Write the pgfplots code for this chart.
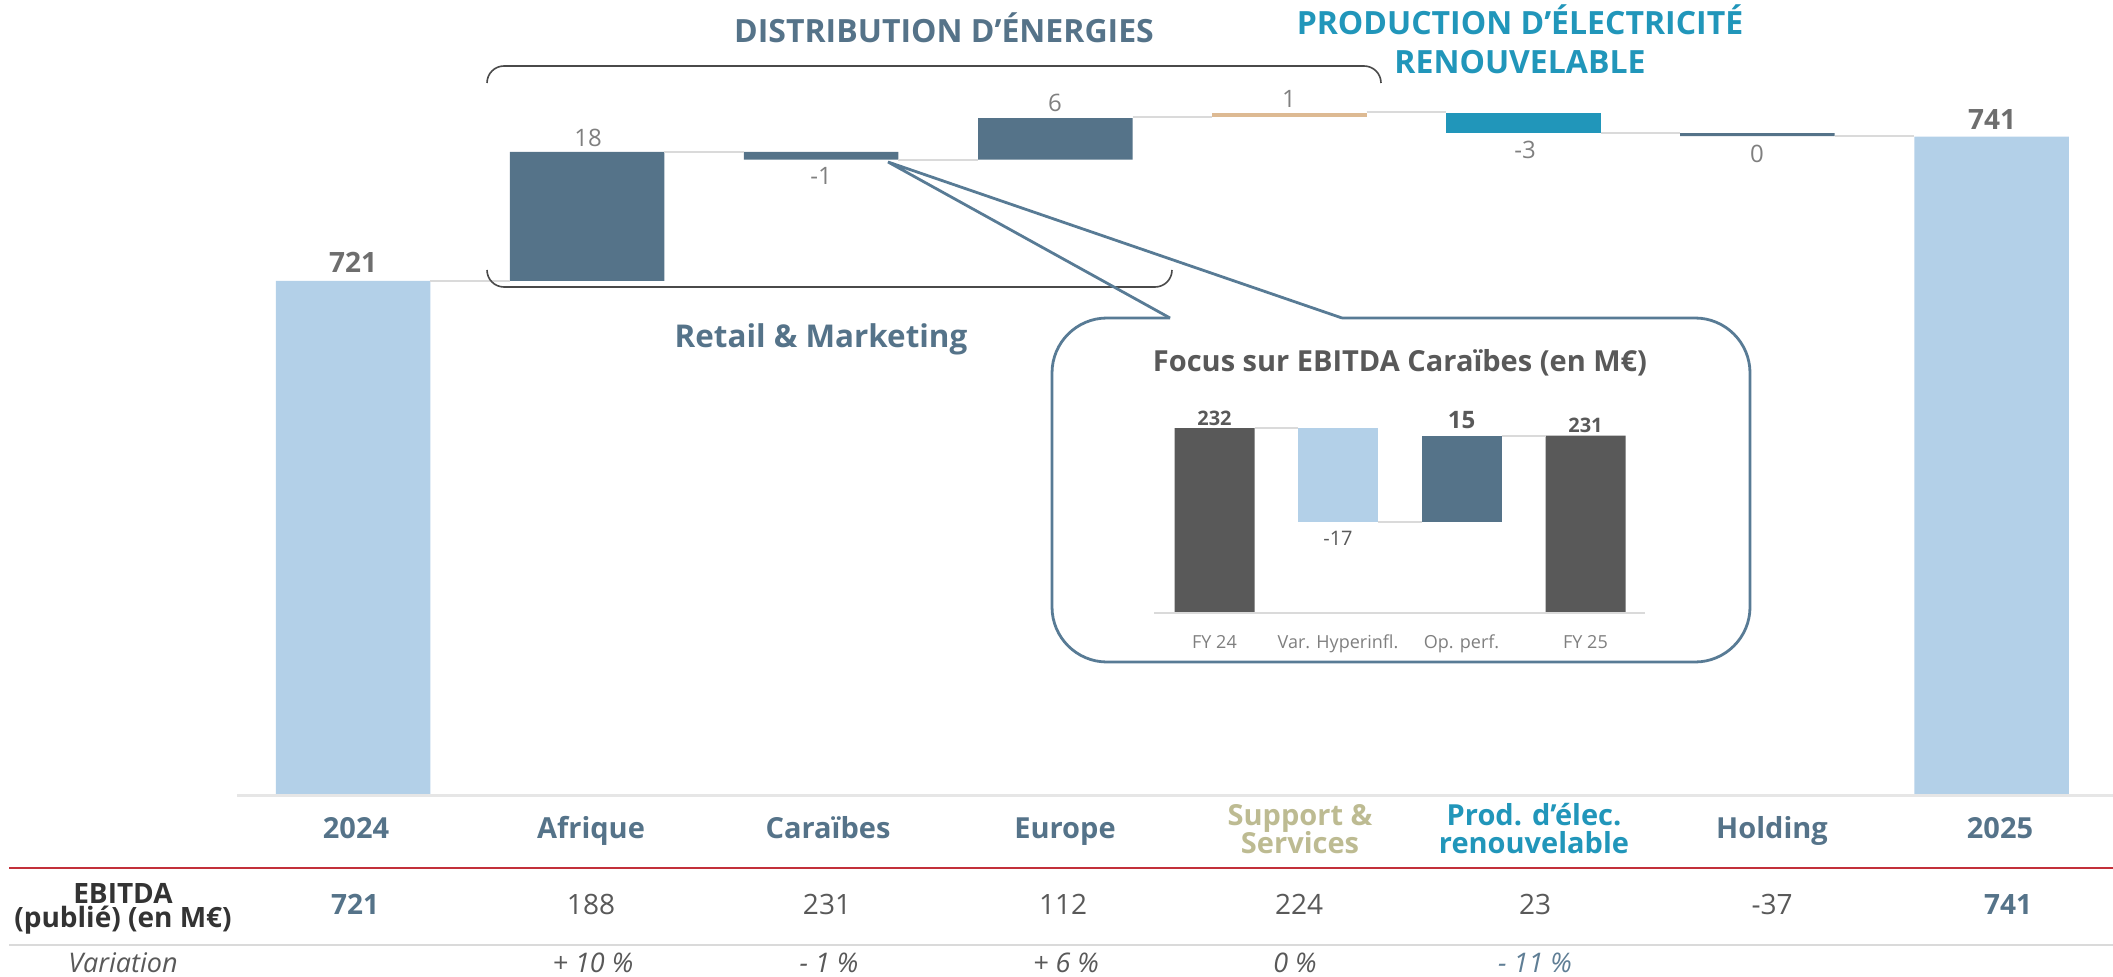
\documentclass[border=0pt]{standalone}
\usepackage{pgfplots}
\pgfplotsset{compat=1.18}
\usepackage{pgfplotstable}
\usepackage{fontspec}
\setmainfont{Open Sans}

\definecolor{lblue}{HTML}{B3D0E8}
\definecolor{slate}{HTML}{557389}
\definecolor{tanc}{HTML}{DDBA93}
\definecolor{tealc}{HTML}{2196BA}
\definecolor{dgrey}{HTML}{595959}
\definecolor{mgrey}{HTML}{7F7F7F}
\definecolor{tgrey}{HTML}{6E6E6E}
\definecolor{conn}{HTML}{DADADA}
\definecolor{basel}{HTML}{E6E6E6}
\definecolor{khaki}{HTML}{BDBB92}
\definecolor{redl}{HTML}{C3303A}
\definecolor{boxc}{HTML}{587B95}
\definecolor{brk}{HTML}{4A4A4A}
\definecolor{blk}{HTML}{333333}
\definecolor{pslate}{HTML}{5F7E95}

\newcommand{\fs}[1]{\fontsize{#1}{#1}\selectfont}

% main waterfall: base = invisible lower part, others = visible segments
\pgfplotstableread{
x base tot sl tan te
0 0 721 0 0 0
1 721 0 18 0 0
2 737.9 0 1.1 0 0
3 737.9 0 5.8 0 0
4 743.8 0 0 0.6 0
5 741.6 0 0 0 2.8
6 741.2 0 0.4 0 0
7 0 741.1 0 0 0
}\maindata

% inset waterfall (Caraibes)
\pgfplotstableread{
x base tot neg pos
0 0 232 0 0
1 215 0 17 0
2 215 0 0 15.6
3 0 230.6 0 0
}\insetdata

\begin{document}
\begin{tikzpicture}[x=0.5pt,y=0.5pt]
\useasboundingbox (0,0) rectangle (2113,976);

% ---------- main bars ----------
\begin{axis}[at={(118pt,90.5pt)}, anchor=south west,
  x=117.035pt, y=3.585pt,
  xmin=-0.5, xmax=7.52, ymin=649.3, ymax=760,
  hide axis, enlargelimits=false,
  ybar stacked, bar width=0.66]
\addplot[draw=none, fill=none] table[x=x,y=base]{\maindata};
\addplot[draw=none, fill=lblue] table[x=x,y=tot]{\maindata};
\addplot[draw=none, fill=slate] table[x=x,y=sl]{\maindata};
\addplot[draw=none, fill=tanc] table[x=x,y=tan]{\maindata};
\addplot[draw=none, fill=tealc] table[x=x,y=te]{\maindata};
\end{axis}

% ---------- main connectors ----------
\begin{axis}[at={(118pt,90.5pt)}, anchor=south west,
  x=117.035pt, y=3.585pt,
  xmin=-0.5, xmax=7.52, ymin=649.3, ymax=760,
  hide axis, enlargelimits=false]
\addplot[conn, line width=1pt, mark=none] coordinates {(0.33,721) (0.67,721)};
\addplot[conn, line width=1pt, mark=none] coordinates {(1.33,739) (1.67,739)};
\addplot[conn, line width=1pt, mark=none] coordinates {(2.33,737.9) (2.67,737.9)};
\addplot[conn, line width=1pt, mark=none] coordinates {(3.33,743.8) (3.67,743.8)};
\addplot[conn, line width=1pt, mark=none] coordinates {(4.33,744.5) (4.67,744.5)};
\addplot[conn, line width=1pt, mark=none] coordinates {(5.33,741.6) (5.67,741.6)};
\addplot[conn, line width=1pt, mark=none] coordinates {(6.33,741.2) (6.67,741.2)};
\end{axis}

% ---------- inset bars ----------
\begin{axis}[at={(576.325pt,181.5pt)}, anchor=south west,
  x=61.85pt, y=2.765pt,
  xmin=-0.5, xmax=3.5, ymin=198.55, ymax=240,
  hide axis, enlargelimits=false,
  ybar stacked, bar width=0.647]
\addplot[draw=none, fill=none] table[x=x,y=base]{\insetdata};
\addplot[draw=none, fill=dgrey] table[x=x,y=tot]{\insetdata};
\addplot[draw=none, fill=lblue] table[x=x,y=neg]{\insetdata};
\addplot[draw=none, fill=slate] table[x=x,y=pos]{\insetdata};
\end{axis}

\begin{axis}[at={(576.325pt,181.5pt)}, anchor=south west,
  x=61.85pt, y=2.765pt,
  xmin=-0.5, xmax=3.5, ymin=198.55, ymax=240,
  hide axis, enlargelimits=false]
\addplot[conn, line width=0.8pt, mark=none] coordinates {(0.3235,232) (0.6765,232)};
\addplot[conn, line width=0.8pt, mark=none] coordinates {(1.3235,215) (1.6765,215)};
\addplot[conn, line width=0.8pt, mark=none] coordinates {(2.3235,230.6) (2.6765,230.6)};
\end{axis}

% ---------- rules ----------
\draw[basel, line width=1.5pt] (237,181) -- (2113,181);
\draw[redl, line width=1.4pt] (9,108) -- (2113,108);
\draw[conn, line width=1.4pt] (9,31) -- (2113,31);
\draw[conn, line width=1pt] (1154,363) -- (1645,363);

% ---------- brackets ----------
\draw[brk, line width=0.8pt, rounded corners=8.5pt] (487,893) -- (487,910) -- (1381,910) -- (1381,893);
\draw[brk, line width=0.8pt, rounded corners=8.5pt] (487,706) -- (487,689) -- (1172,689) -- (1172,706);

% ---------- callout ----------
\draw[boxc, line width=1.4pt, rounded corners=27.5pt] (1170,658) -- (1052,658) -- (1052,314) -- (1750,314) -- (1750,658) -- (1342,658);
\draw[boxc, line width=1.4pt] (1170,658) -- (888,814) -- (1342,658);

% ---------- group titles ----------
\node[anchor=base, text=slate, font=\fs{16pt}\bfseries] at (944,933) {DISTRIBUTION D’ÉNERGIES};
\node[anchor=base, text=tealc, font=\fs{16pt}\bfseries] at (1520,941) {PRODUCTION D’ÉLECTRICITÉ};
\node[anchor=base, text=tealc, font=\fs{16pt}\bfseries] at (1520,902) {RENOUVELABLE};
\node[anchor=base, text=slate, font=\fs{15.7pt}\bfseries] at (821,628) {Retail \& Marketing};

% ---------- value labels ----------
\node[anchor=base, text=tgrey, font=\fs{14pt}\bfseries] at (353,703) {721};
\node[anchor=base, text=tgrey, font=\fs{14pt}\bfseries] at (1992,846) {741};
\node[anchor=base, text=mgrey, font=\fs{12pt}] at (588,829) {18};
\node[anchor=base, text=mgrey, font=\fs{12pt}] at (821,791) {-1};
\node[anchor=base, text=mgrey, font=\fs{12pt}] at (1055,864) {6};
\node[anchor=base, text=mgrey, font=\fs{12pt}] at (1289,868) {1};
\node[anchor=base, text=mgrey, font=\fs{12pt}] at (1525,817) {-3};
\node[anchor=base, text=mgrey, font=\fs{12pt}] at (1757,813) {0};

% ---------- category labels ----------
\node[anchor=base, text=slate, font=\fs{14.5pt}\bfseries] at (356,138) {2024};
\node[anchor=base, text=slate, font=\fs{14.5pt}\bfseries] at (591,138) {Afrique};
\node[anchor=base, text=slate, font=\fs{14.5pt}\bfseries] at (828,138) {Caraïbes};
\node[anchor=base, text=slate, font=\fs{14.5pt}\bfseries] at (1065,138) {Europe};
\node[anchor=base, text=khaki, font=\fs{14.5pt}\bfseries] at (1300,151) {Support \&};
\node[anchor=base, text=khaki, font=\fs{14.5pt}\bfseries] at (1300,123) {Services};
\node[anchor=base, text=tealc, font=\fs{14.5pt}\bfseries] at (1534,151) {Prod. d’élec.};
\node[anchor=base, text=tealc, font=\fs{14.5pt}\bfseries] at (1534,123) {renouvelable};
\node[anchor=base, text=slate, font=\fs{14.5pt}\bfseries] at (1772,138) {Holding};
\node[anchor=base, text=slate, font=\fs{14.5pt}\bfseries] at (2000,138) {2025};

% ---------- table ----------
\node[anchor=base, text=blk, font=\fs{14pt}\bfseries] at (123,73) {EBITDA};
\node[anchor=base, text=blk, font=\fs{14pt}\bfseries] at (123,49) {(publié) (en M€)};
\node[anchor=base, text=slate, font=\fs{14pt}\bfseries] at (355,62) {721};
\node[anchor=base, text=dgrey, font=\fs{14pt}] at (591,62) {188};
\node[anchor=base, text=dgrey, font=\fs{14pt}] at (827,62) {231};
\node[anchor=base, text=dgrey, font=\fs{14pt}] at (1063,62) {112};
\node[anchor=base, text=dgrey, font=\fs{14pt}] at (1299,62) {224};
\node[anchor=base, text=dgrey, font=\fs{14pt}] at (1535,62) {23};
\node[anchor=base, text=dgrey, font=\fs{14pt}] at (1772,62) {-37};
\node[anchor=base, text=slate, font=\fs{14pt}\bfseries] at (2008,62) {741};

\node[anchor=base, text=dgrey, font=\fs{13.5pt}\itshape] at (123,4) {Variation};
\node[anchor=base, text=dgrey, font=\fs{13.5pt}\itshape] at (593,4) {+ 10 \%};
\node[anchor=base, text=dgrey, font=\fs{13.5pt}\itshape] at (829,4) {- 1 \%};
\node[anchor=base, text=dgrey, font=\fs{13.5pt}\itshape] at (1066,4) {+ 6 \%};
\node[anchor=base, text=dgrey, font=\fs{13.5pt}\itshape] at (1295,4) {0 \%};
\node[anchor=base, text=pslate, font=\fs{13.5pt}\itshape] at (1535,4) {- 11 \%};

% ---------- inset texts ----------
\node[anchor=base, text=dgrey, font=\fs{14.5pt}\bfseries] at (1400,604) {Focus sur EBITDA Caraïbes (en M€)};
\node[anchor=base, text=dgrey, font=\fs{10pt}\bfseries] at (1214.5,551) {232};
\node[anchor=base, text=dgrey, font=\fs{10pt}] at (1338,431) {-17};
\node[anchor=base, text=dgrey, font=\fs{12pt}\bfseries] at (1461.5,548) {15};
\node[anchor=base, text=dgrey, font=\fs{10pt}\bfseries] at (1585.5,544) {231};
\node[anchor=base, text=mgrey, font=\fs{9pt}] at (1214.5,328) {FY 24};
\node[anchor=base, text=mgrey, font=\fs{9pt}] at (1338,328) {Var. Hyperinfl.};
\node[anchor=base, text=mgrey, font=\fs{9pt}] at (1461.5,328) {Op. perf.};
\node[anchor=base, text=mgrey, font=\fs{9pt}] at (1585.5,328) {FY 25};
\end{tikzpicture}
\end{document}
